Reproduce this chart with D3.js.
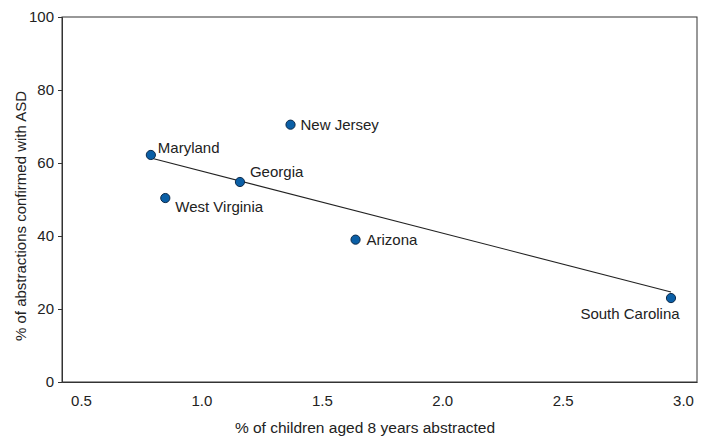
<!DOCTYPE html>
<html><head><meta charset="utf-8">
<script src="https://cdn.jsdelivr.net/npm/d3@7"></script>
<style>
body{margin:0;background:#fff;}
svg text{font-family:"Liberation Sans",Arial,Helvetica,sans-serif;fill:#222;}
</style></head>
<body><svg id="c" width="702" height="437"></svg>
<script>
const states = ["Maryland","West Virginia","Georgia","New Jersey","Arizona","South Carolina"];
const pctAbstracted = [0.79, 0.85, 1.16, 1.37, 1.64, 2.95];
const pctConfirmed = [62.2, 50.4, 54.8, 70.5, 39.0, 23.0];
const xTicks = [0.5, 1.0, 1.5, 2.0, 2.5, 3.0];
const yTicks = [0, 20, 40, 60, 80, 100];

// label placement (presentation only)
const labelPos = {
  "Maryland": {dx: 7, dy: -2, anchor: "start"},
  "West Virginia": {dx: 10, dy: 14, anchor: "start"},
  "Georgia": {dx: 10, dy: -5, anchor: "start"},
  "New Jersey": {dx: 10, dy: 5, anchor: "start"},
  "Arizona": {dx: 11, dy: 5, anchor: "start"},
  "South Carolina": {dx: -41, dy: 21, anchor: "middle"}
};

const svg = d3.select("#c");
const L = 62, R = 697, T = 17, B = 382;
const x = d3.scaleLinear().domain([0.421, 3.058]).range([L, R]);
const y = d3.scaleLinear().domain([0, 100]).range([B, T]);

svg.append("rect").attr("x", L).attr("y", T).attr("width", R - L).attr("height", B - T)
  .attr("fill", "none").attr("stroke", "#333").attr("stroke-width", 1);

const yAxis = svg.append("g").attr("transform", `translate(${L},0)`)
  .call(d3.axisLeft(y).tickValues(yTicks).tickSize(4).tickPadding(4).tickFormat(d3.format("d")));
yAxis.select(".domain").attr("stroke", "#333");
yAxis.selectAll(".tick line").attr("stroke", "#333");
yAxis.selectAll("text").attr("font-size", 15);

const xAxis = svg.append("g").attr("transform", `translate(0,${B})`)
  .call(d3.axisBottom(x).tickValues(xTicks).tickSize(0).tickPadding(13).tickFormat(d3.format(".1f")));
xAxis.select(".domain").attr("stroke", "#333");
xAxis.selectAll("text").attr("font-size", 15);

// regression line
const n = states.length;
const mx = d3.mean(pctAbstracted), my = d3.mean(pctConfirmed);
let sxy = 0, sxx = 0;
for (let i = 0; i < n; i++) { sxy += (pctAbstracted[i]-mx)*(pctConfirmed[i]-my); sxx += (pctAbstracted[i]-mx)**2; }
const slope = sxy / sxx, icpt = my - slope * mx;
const [x0, x1] = d3.extent(pctAbstracted);
svg.append("line").attr("x1", x(x0)).attr("y1", y(icpt + slope*x0))
  .attr("x2", x(x1)).attr("y2", y(icpt + slope*x1))
  .attr("stroke", "#222").attr("stroke-width", 1.1);

const data = states.map((s, i) => ({s, x: pctAbstracted[i], y: pctConfirmed[i]}));
svg.selectAll("circle.pt").data(data).join("circle").attr("class", "pt")
  .attr("cx", d => x(d.x)).attr("cy", d => y(d.y)).attr("r", 4.6)
  .attr("fill", "#0a5fa6").attr("stroke", "#0d2a4a").attr("stroke-width", 1);

svg.selectAll("text.lbl").data(data).join("text").attr("class", "lbl")
  .attr("x", d => x(d.x) + labelPos[d.s].dx).attr("y", d => y(d.y) + labelPos[d.s].dy)
  .attr("text-anchor", d => labelPos[d.s].anchor)
  .attr("font-size", 15).text(d => d.s);

svg.append("text").attr("x", 365).attr("y", 433).attr("text-anchor", "middle")
  .attr("font-size", 15.5).text("% of children aged 8 years abstracted");
svg.append("text").attr("transform", `translate(26,216) rotate(-90)`)
  .attr("text-anchor", "middle").attr("font-size", 15).text("% of abstractions confirmed with ASD");
</script></body></html>
